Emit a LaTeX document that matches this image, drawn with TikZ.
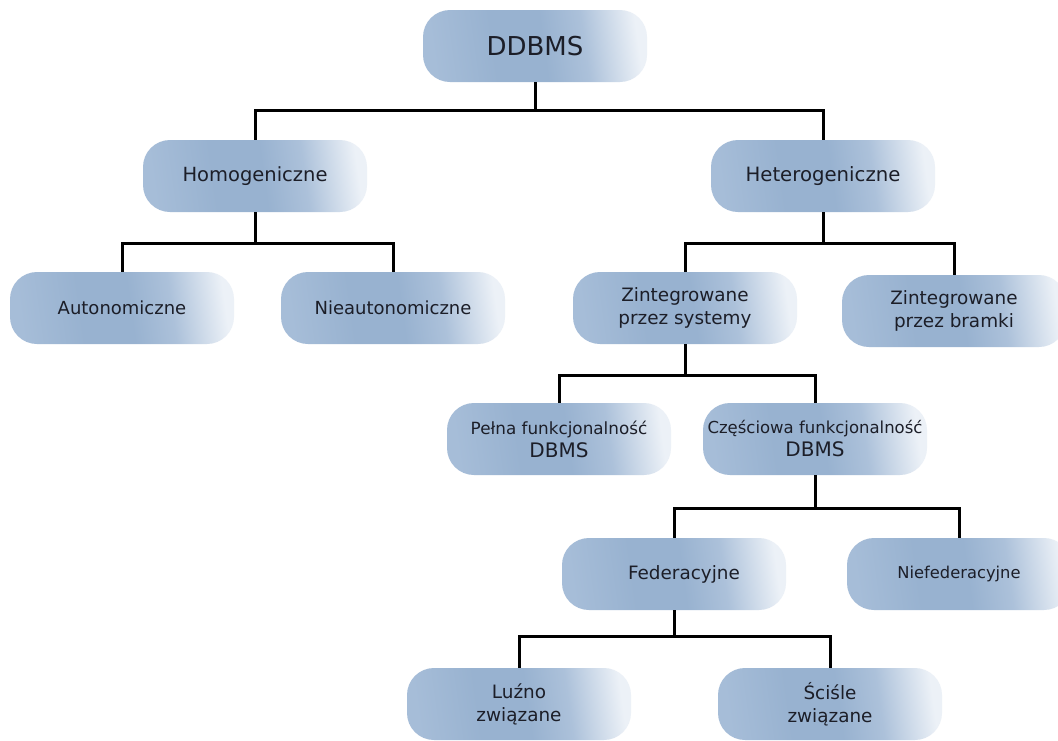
\documentclass[tikz,border=0pt]{standalone}
\usepackage{fontspec}
\setmainfont{DejaVu Sans}
\definecolor{boxA}{RGB}{166,189,216}
\definecolor{boxB}{RGB}{152,178,208}
\definecolor{boxM}{RGB}{172,193,218}
\definecolor{boxC}{RGB}{236,241,247}
\definecolor{txt}{RGB}{28,30,40}
\pgfdeclarehorizontalshading{boxshade}{100bp}{color(0bp)=(boxA); color(25bp)=(boxA); color(40bp)=(boxB); color(52bp)=(boxB); color(62bp)=(boxM); color(75bp)=(boxC); color(100bp)=(boxC)}
\tikzset{
  box/.style={rounded corners=27pt, minimum width=224pt, minimum height=72pt, inner sep=0pt,
    shade, shading=boxshade, shading angle=8, text=txt, align=center, font=\fontsize{19}{23}\selectfont},
  twoline/.style={font=\fontsize{18.4}{23}\selectfont},
  link/.style={draw=black, line width=3pt}
}
\begin{document}
\begin{tikzpicture}[x=1pt,y=-1pt]
\useasboundingbox[fill=white] (0,0) rectangle (1058,740);
\node[box, font=\fontsize{26}{30}\selectfont] (ddbms) at (535,46) {DDBMS};
\node[box, font=\fontsize{19.5}{23}\selectfont] (hom) at (255,176) {Homogeniczne};
\node[box, font=\fontsize{19.7}{23}\selectfont] (het) at (823,176) {Heterogeniczne};
\node[box, font=\fontsize{18}{23}\selectfont] (auto) at (122,308) {Autonomiczne};
\node[box, font=\fontsize{18}{23}\selectfont] (nauto) at (393,308) {Nieautonomiczne};
\node[box, twoline] (zsys) at (685,308) {Zintegrowane\\przez systemy};
\node[box, twoline] (zbr) at (954,311) {Zintegrowane\\przez bramki};
\node[box] (pelna) at (559,439) {{\fontsize{16.8}{21}\selectfont Pełna funkcjonalność}\\{\fontsize{20}{24}\selectfont DBMS}};
\node[box] (czes) at (815,439) {{\fontsize{16.5}{21}\selectfont Częściowa funkcjonalność}\\{\fontsize{20}{24}\selectfont DBMS}};
\node[box, font=\fontsize{18.4}{23}\selectfont] (fed) at (674,574) {\hspace*{20pt}Federacyjne};
\node[box, font=\fontsize{16.3}{20}\selectfont] (nfed) at (959,574) {Niefederacyjne};
\node[box, twoline] (luz) at (519,704) {Luźno\\związane};
\node[box, twoline] (sci) at (830,704) {Ściśle\\związane};

\draw[link] (ddbms.south) -- ++(0,28) coordinate (j1);
\draw[link] (hom.north) |- (j1) -| (het.north);
\draw[link] (hom.south) -- ++(0,31) coordinate (j2);
\draw[link] (auto.north) |- (j2) -| (nauto.north);
\draw[link] (het.south) -- ++(0,31) coordinate (j3);
\draw[link] (zsys.north) |- (j3) -| (zbr.north);
\draw[link] (zsys.south) -- ++(0,31) coordinate (j4);
\draw[link] (pelna.north) |- (j4) -| (czes.north);
\draw[link] (czes.south) -- ++(0,33) coordinate (j5);
\draw[link] (fed.north) |- (j5) -| (nfed.north);
\draw[link] (fed.south) -- ++(0,26) coordinate (j6);
\draw[link] (luz.north) |- (j6) -| (sci.north);
\end{tikzpicture}
\end{document}
